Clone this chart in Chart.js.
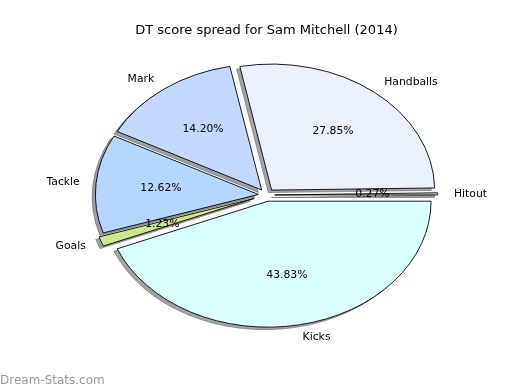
<!DOCTYPE html>
<html><head><meta charset="utf-8">
<script src="https://cdn.jsdelivr.net/npm/chart.js@4.4.1/dist/chart.umd.min.js"></script>
<style>html,body{margin:0;padding:0;background:#fff;} #wrap{width:520px;height:390px;position:relative;}</style>
</head><body><div id="wrap"><canvas id="c" width="520" height="390"></canvas></div>
<script>
const categories = ["Hitout", "Handballs", "Mark", "Tackle", "Goals", "Kicks"];
const percentValues = [0.27, 27.85, 14.20, 12.62, 1.23, 43.83];
const sliceColors = ["#d8d8d8", "#eaf0fe", "#c4d8ff", "#b4d6ff", "#cde88e", "#daffff"];
const explodeFractions = [0.05, 0.05, 0.05, 0.05, 0.08, 0.05];
const chartTitle = "DT score spread for Sam Mitchell (2014)";
const watermarkText = "Dream-Stats.com";

const FONT = "'DejaVu Sans', sans-serif";
const RX = 163, RY = 126, SY = RY / RX;
// original draws counter-clockwise from 3 o'clock; Chart.js goes clockwise -> reverse order
const rev = a => a.slice().reverse();
function hexToRgb(h) { const n = parseInt(h.slice(1), 16); return [(n >> 16) & 255, (n >> 8) & 255, n & 255]; }

const piePlugin = {
  id: 'mplPie',
  beforeDatasetsDraw(chart) {
    const ctx = chart.ctx;
    const arcs = chart.getDatasetMeta(0).data;
    const ex = rev(explodeFractions), cols = rev(sliceColors);
    const setup = (el, i, sx, sy) => {
      const cx = el.x, cy = el.y;
      ctx.translate(cx, cy); ctx.scale(1, SY); ctx.translate(-cx, -cy);
      const mid = (el.startAngle + el.endAngle) / 2;
      const d = ex[i] * el.outerRadius;
      ctx.translate(Math.cos(mid) * d + sx, Math.sin(mid) * d + sy);
    };
    arcs.forEach((el, i) => {
      ctx.save();
      setup(el, i, -0.02 * el.outerRadius, 0.02 * el.outerRadius);
      const [r, g, b] = hexToRgb(cols[i]);
      const sc = `rgba(${Math.round(r * 0.3)},${Math.round(g * 0.3)},${Math.round(b * 0.3)},0.5)`;
      const saved = el.options;
      el.options = Object.assign({}, saved, {backgroundColor: sc, borderColor: sc});
      el.draw(ctx);
      el.options = saved;
      ctx.restore();
    });
    arcs.forEach((el, i) => { ctx.save(); setup(el, i, 0, 0); el.draw(ctx); ctx.restore(); });
    return false;
  },
  afterDraw(chart) {
    const ctx = chart.ctx;
    const arcs = chart.getDatasetMeta(0).data;
    const labs = rev(categories), vals = rev(percentValues), ex = rev(explodeFractions);
    const total = vals.reduce((a, b) => a + b, 0);
    ctx.save();
    ctx.font = `10.8px ${FONT}`; ctx.fillStyle = '#000'; ctx.textBaseline = 'middle';
    arcs.forEach((el, i) => {
      const mid = (el.startAngle + el.endAngle) / 2, R = el.outerRadius;
      const c = Math.cos(mid), s = Math.sin(mid);
      const lx = el.x + R * (1.1 + ex[i]) * c, ly = el.y + R * SY * (1.1 + ex[i]) * s;
      ctx.textAlign = c > 0 ? 'left' : 'right';
      ctx.fillText(labs[i], lx, ly);
      const px = el.x + R * (0.6 + ex[i]) * c, py = el.y + R * SY * (0.6 + ex[i]) * s;
      ctx.textAlign = 'center';
      ctx.fillText((vals[i] / total * 100).toFixed(2) + '%', px, py);
    });
    ctx.font = `12px ${FONT}`; ctx.fillStyle = '#9a9a9a';
    ctx.textAlign = 'left'; ctx.textBaseline = 'alphabetic';
    ctx.fillText(watermarkText, 0, 384);
    ctx.restore();
  }
};

new Chart(document.getElementById('c'), {
  type: 'pie',
  data: {
    labels: rev(categories),
    datasets: [{
      data: rev(percentValues),
      backgroundColor: rev(sliceColors),
      borderColor: '#000',
      borderWidth: 1,
      borderJoinStyle: 'miter',
      radius: RX,
      clip: false
    }]
  },
  options: {
    responsive: false,
    animation: false,
    events: [],
    rotation: 90,
    layout: {padding: {left: 13, right: 0, top: 0, bottom: 38.6}},
    plugins: {
      legend: {display: false},
      tooltip: {enabled: false},
      title: {
        display: true, text: chartTitle, color: '#000',
        font: {family: FONT, size: 13, weight: 'normal', lineHeight: 1.2},
        padding: {top: 23, bottom: 0}
      }
    }
  },
  plugins: [piePlugin]
});
</script></body></html>
